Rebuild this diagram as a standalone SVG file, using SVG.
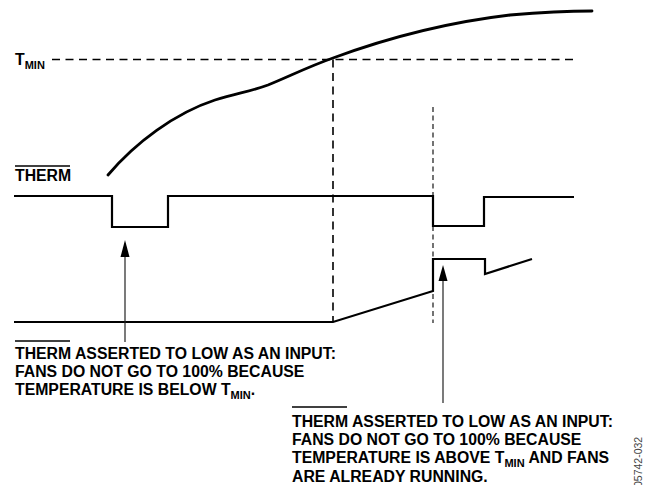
<svg xmlns="http://www.w3.org/2000/svg" width="647" height="485" viewBox="0 0 647 485">
<style>
.sig{fill:none;stroke:#000;stroke-width:2.2;stroke-linejoin:miter}
.curve{fill:none;stroke:#000;stroke-width:2.8;stroke-linecap:round}
.dash{fill:none;stroke:#000;stroke-width:1.6;stroke-dasharray:8,5.5}
.dash2{fill:none;stroke:#000;stroke-width:1.1;stroke-dasharray:5,3.5}
.arr{fill:none;stroke:#222;stroke-width:1.2}
.lbl{font-family:"Liberation Sans",Arial,sans-serif;font-weight:bold;font-size:15.8px;fill:#000}
.sub{font-size:11px}
.ol{stroke:#000;stroke-width:1.3}
.id{font-family:"Liberation Sans",Arial,sans-serif;font-size:10.5px;fill:#444}
</style>
<defs>
<marker id="ah" markerWidth="10" markerHeight="18" refX="5" refY="0" orient="auto" markerUnits="userSpaceOnUse" viewBox="0 0 10 18">
</marker>
</defs>
<g id="connectors">
<line class="dash" x1="52" y1="59.5" x2="576" y2="59.5"/>
<line class="dash" x1="333" y1="59.5" x2="333" y2="322"/>
<line class="dash2" x1="433" y1="107" x2="433" y2="323"/>
<path class="curve" d="M108,175 C135,143 175,113 215,100 C238,93 252,91 268,85 C290,76 310,66 333,58 C390,37 450,22 510,15 C545,12 570,11 592,11"/>
<path class="sig" d="M14,196 H112 V227 H168 V196 H433 V226 H484 V197 H574"/>
<path class="sig" d="M14,322 H333 L433,291 V259 H485 V274 L532,259"/>
<line class="arr" x1="125" y1="255" x2="125" y2="342"/>
<polygon points="125,240 120.5,257 129.5,257" fill="#000"/>
<line class="arr" x1="443" y1="278" x2="443" y2="403"/>
<polygon points="443,265 438.5,281 447.5,281" fill="#000"/>
</g>
<g id="tmin-label">
<text class="lbl" x="15" y="65">T<tspan class="sub" dy="3.5">MIN</tspan></text>
</g>
<g id="therm-label">
<line class="ol" x1="15" y1="166" x2="70" y2="166"/>
<text class="lbl" x="15" y="181">THERM</text>
</g>
<g id="note-1">
<line class="ol" x1="15" y1="341" x2="70" y2="341"/>
<text class="lbl" x="15" y="358.5">THERM ASSERTED TO LOW AS AN INPUT:</text>
<text class="lbl" x="15" y="377">FANS DO NOT GO TO 100% BECAUSE</text>
<text class="lbl" x="15" y="395">TEMPERATURE IS BELOW T<tspan class="sub" dy="3.5">MIN</tspan><tspan dy="-3.5">.</tspan></text>
</g>
<g id="note-2">
<line class="ol" x1="292" y1="407" x2="347" y2="407"/>
<text class="lbl" x="292" y="426.5">THERM ASSERTED TO LOW AS AN INPUT:</text>
<text class="lbl" x="292" y="444.8">FANS DO NOT GO TO 100% BECAUSE</text>
<text class="lbl" x="292" y="463">TEMPERATURE IS ABOVE T<tspan class="sub" dy="3.5">MIN</tspan><tspan dy="-3.5"> AND FANS</tspan></text>
<text class="lbl" x="292" y="481.5">ARE ALREADY RUNNING.</text>
</g>
<g id="figure-id">
<text class="id" transform="translate(642,487) rotate(-90)">05742-032</text>
</g>
</svg>
